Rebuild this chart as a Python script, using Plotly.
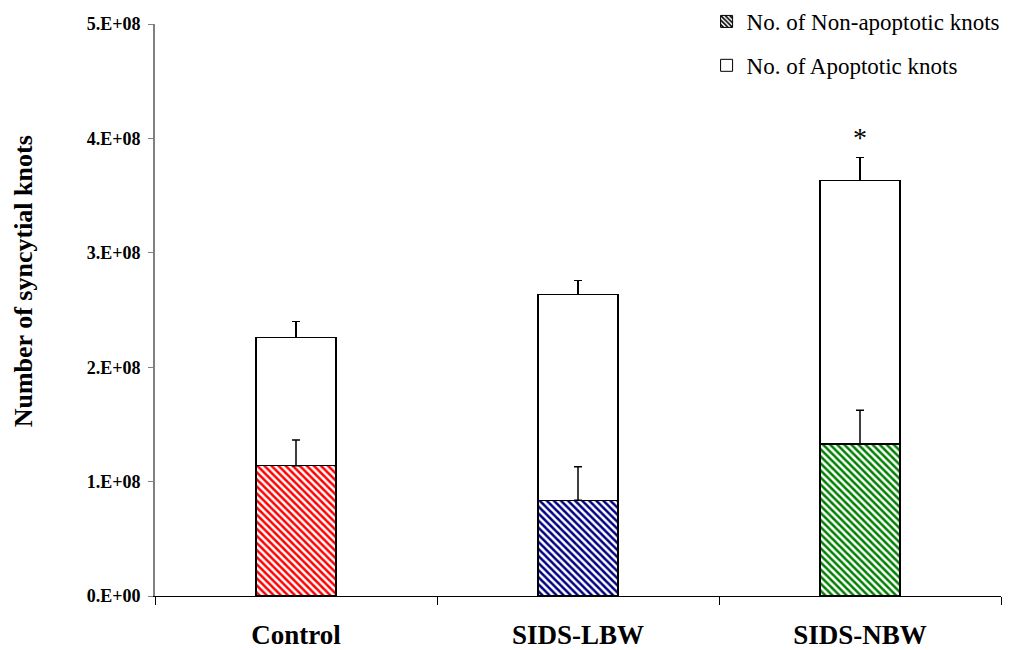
import plotly.graph_objects as go

# Syncytial knot counts per group (stacked: non-apoptotic at the base, apoptotic on top)
groups = ["Control", "SIDS-LBW", "SIDS-NBW"]
non_apoptotic = [1.139e8, 0.836e8, 1.329e8]
non_apoptotic_err = [0.225e8, 0.294e8, 0.294e8]
apoptotic = [1.122e8, 1.801e8, 2.301e8]
total_err = [0.137e8, 0.119e8, 0.205e8]
hatch_colors = ["#FF0000", "#000080", "#008000"]

y_ticks = [0, 1e8, 2e8, 3e8, 4e8, 5e8]
y_tick_labels = ["0.E+00", "1.E+08", "2.E+08", "3.E+08", "4.E+08", "5.E+08"]

SERIF = "Liberation Serif"
BAR_W = 0.285

fig = go.Figure()

fig.add_trace(go.Bar(
    x=groups, y=non_apoptotic, width=BAR_W, showlegend=False,
    marker=dict(
        color="white",
        line=dict(color="black", width=1.5),
        pattern=dict(shape="\\", fgcolor=hatch_colors, bgcolor="white",
                     size=5, solidity=0.5, fillmode="replace"),
    ),
))

fig.add_trace(go.Bar(
    x=groups, y=apoptotic, width=BAR_W, showlegend=False,
    marker=dict(color="white", line=dict(color="black", width=1.5)),
    error_y=dict(type="data", symmetric=False, array=total_err,
                 arrayminus=[0, 0, 0], color="black", thickness=1.5, width=4),
))

# Upper error bars of the base segment, drawn over the white top segment
fig.add_trace(go.Scatter(
    x=groups, y=non_apoptotic, mode="markers", showlegend=False,
    marker=dict(size=0.1, color="rgba(0,0,0,0)"),
    error_y=dict(type="data", symmetric=False, array=non_apoptotic_err,
                 arrayminus=[0, 0, 0], color="black", thickness=1.5, width=4),
    hoverinfo="skip",
))

# Legend entries (black hatch for the base series, plain white for the top series)
fig.add_trace(go.Bar(
    x=[None], y=[None], name="No. of Non-apoptotic knots", legendgroup="a",
    marker=dict(color="white", line=dict(color="black", width=1),
                pattern=dict(shape="\\", fgcolor="black", bgcolor="white",
                             size=4, solidity=0.5, fillmode="replace")),
))
fig.add_trace(go.Bar(
    x=[None], y=[None], name="No. of Apoptotic knots", legendgroup="b",
    marker=dict(color="white", line=dict(color="black", width=1)),
))

# Significance marker above SIDS-NBW
fig.add_annotation(
    x=groups[2], y=non_apoptotic[2] + apoptotic[2] + total_err[2],
    text="*", showarrow=False, yanchor="bottom", yshift=2,
    font=dict(family=SERIF, size=28, color="black"),
)

# Y axis title
fig.add_annotation(
    xref="paper", yref="paper", x=-0.155, y=0.55,
    xanchor="center", yanchor="middle",
    text="<b>Number of syncytial knots</b>", textangle=-90, showarrow=False,
    font=dict(family=SERIF, size=26, color="black"),
)

fig.update_layout(
    width=1017, height=650,
    margin=dict(l=155, r=16, t=24, b=54, autoexpand=False),
    paper_bgcolor="white", plot_bgcolor="white",
    barmode="stack",
    font=dict(family=SERIF, color="black"),
    legend=dict(
        x=0.652, y=1.042, xanchor="left", yanchor="top",
        font=dict(family=SERIF, size=23, color="black"),
        traceorder="grouped", tracegroupgap=11,
        bgcolor="rgba(0,0,0,0)", itemwidth=30,
    ),
    xaxis=dict(
        type="category", range=[-0.5, 2.5],
        showline=True, linecolor="black", linewidth=1,
        ticks="outside", tickson="boundaries", ticklen=8, tickcolor="black",
        tickfont=dict(family=SERIF, size=27, color="black"),
        tickvals=groups, ticktext=["<b>%s</b>" % g for g in groups],
        ticklabelstandoff=15,
        showgrid=False, zeroline=False,
    ),
    yaxis=dict(
        range=[0, 5e8],
        tickvals=y_ticks, ticktext=["<b>%s</b>" % t for t in y_tick_labels],
        tickfont=dict(family=SERIF, size=18, color="black"),
        showline=True, linecolor="#808080", linewidth=2,
        ticks="outside", ticklen=5, tickcolor="#808080",
        ticklabelstandoff=4,
        showgrid=False, zeroline=False,
    ),
)

fig.write_html("out.html")
